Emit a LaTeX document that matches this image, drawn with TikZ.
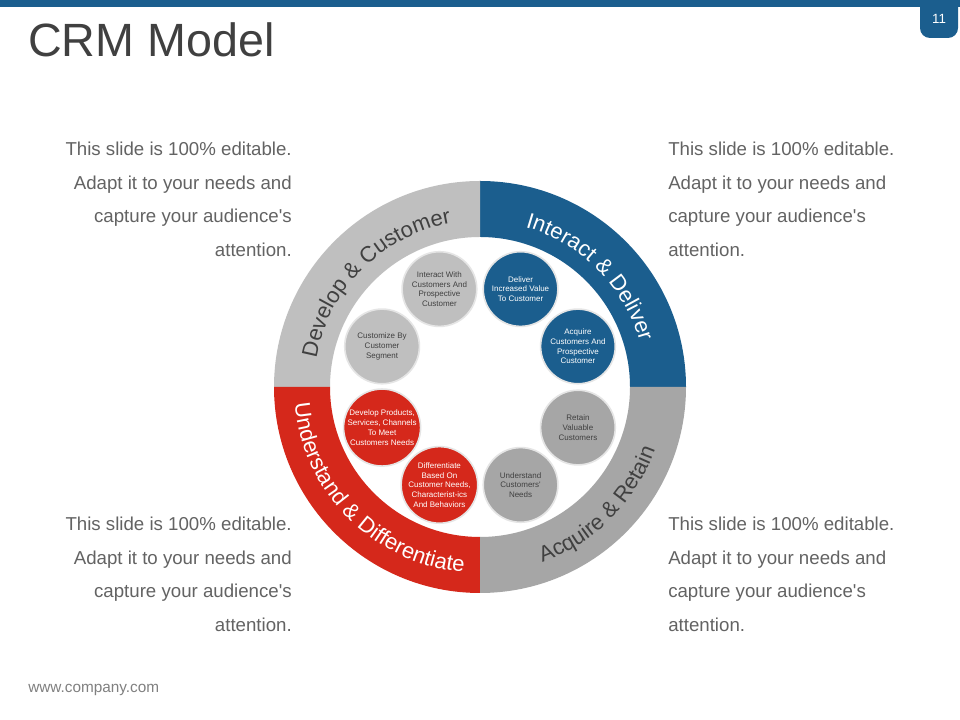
\documentclass[tikz,border=0pt]{standalone}
\usepackage{fontspec}
\setmainfont{Liberation Sans}
\usepackage{xcolor}
\usepackage{tikz}
\usetikzlibrary{decorations.text}
\definecolor{crmblue}{HTML}{1B5E8E}
\definecolor{crmred}{HTML}{D5281B}
\definecolor{crmlight}{HTML}{BFBFBF}
\definecolor{crmgray}{HTML}{A6A6A6}
\definecolor{darkgray}{HTML}{404040}
\definecolor{bodygray}{HTML}{636363}
\tikzset{
  bubble/.style={circle,fill=#1,draw=gray!20,line width=1.2pt,minimum size=56pt,inner sep=0pt,
    align=center,text=darkgray,font=\fontsize{6}{7.3}\selectfont},
  bubble/.default=crmlight,
  darkbubble/.style={bubble=#1,text=white},
  darkbubble/.default=crmblue,
  note/.style={text=bodygray,inner sep=0pt,font=\fontsize{14}{25.1}\selectfont},
  ringtext/.style={decorate,decoration={text along path,text align=center,text color=#1}},
  ringtext/.default=white
}

\begin{document}
\begin{tikzpicture}[x=0.75pt,y=0.75pt]
\useasboundingbox[fill=white] (0,0) rectangle (960,720);
\fill[crmblue] (0,713) rectangle (960,720);
\fill[crmblue,rounded corners=7.5pt] (920,735) rectangle (958,682);
\node[text=white,font=\fontsize{10}{12}\selectfont] (pageno) at (939,701) {11};
\node[anchor=base west,inner sep=0pt,text=darkgray,font=\fontsize{35}{40}\selectfont] (title) at (28,663) {CRM Model};
\node[anchor=base west,inner sep=0pt,text=gray,font=\fontsize{11.5}{13}\selectfont] (footer) at (28,27) {www.company.com};

\node[note,anchor=north east,align=right] (notetl) at (292,578) {This slide is 100\% editable.\\Adapt it to your needs and\\capture your audience\textquotesingle s\\attention.};
\node[note,anchor=north west,align=left] (notetr) at (668,578) {This slide is 100\% editable.\\Adapt it to your needs and\\capture your audience\textquotesingle s\\attention.};
\node[note,anchor=north east,align=right] (notebl) at (292,203) {This slide is 100\% editable.\\Adapt it to your needs and\\capture your audience\textquotesingle s\\attention.};
\node[note,anchor=north west,align=left] (notebr) at (668,203) {This slide is 100\% editable.\\Adapt it to your needs and\\capture your audience\textquotesingle s\\attention.};

\begin{scope}[shift={(480,333)}]
\foreach \a/\c in {0/crmblue,90/crmlight,180/crmred,270/crmgray}
  \fill[\c] (\a:150) -- (\a:206) arc[start angle=\a,delta angle=90,radius=206]
    -- ({\a+90}:150) arc[start angle=\a+90,delta angle=-90,radius=150] -- cycle;

\path[ringtext=darkgray,decoration={text={|\fontsize{16.5}{18}\selectfont|Develop {\&} Customer}}]
  (180:166) arc[start angle=180,end angle=90,radius=166];
\path[ringtext,decoration={text={|\fontsize{16.5}{18}\selectfont|Interact {\&} Deliver}}]
  (90:166) arc[start angle=90,end angle=0,radius=166];
\path[ringtext,decoration={text={|\fontsize{16.5}{18}\selectfont|Understand {\&} Differentiate}}]
  (180:186) arc[start angle=180,end angle=270,radius=186];
\path[ringtext=darkgray,decoration={text={|\fontsize{16.5}{18}\selectfont|Acquire {\&} Retain}}]
  (270:186) arc[start angle=270,end angle=360,radius=186];

\node[bubble] (interact) at (112.5:106) {Interact With\\Customers And\\Prospective\\Customer};
\node[darkbubble] (deliver) at (67.5:106) {Deliver\\Increased Value\\To Customer};
\node[darkbubble] (acquire) at (22.5:106) {Acquire\\Customers And\\Prospective\\Customer};
\node[bubble=crmgray] (retain) at (-22.5:106) {Retain\\Valuable\\Customers};
\node[bubble=crmgray] (understand) at (-67.5:106) {Understand\\Customers\textquotesingle\\Needs};
\node[darkbubble=crmred] (differentiate) at (-112.5:106) {Differentiate\\Based On\\Customer Needs,\\Characterist-ics\\And Behaviors};
\node[darkbubble=crmred] (develop) at (-157.5:106) {Develop Products,\\Services, Channels\\To Meet\\Customers Needs};
\node[bubble] (customize) at (157.5:106) {Customize By\\Customer\\Segment};
\end{scope}
\end{tikzpicture}
\end{document}
